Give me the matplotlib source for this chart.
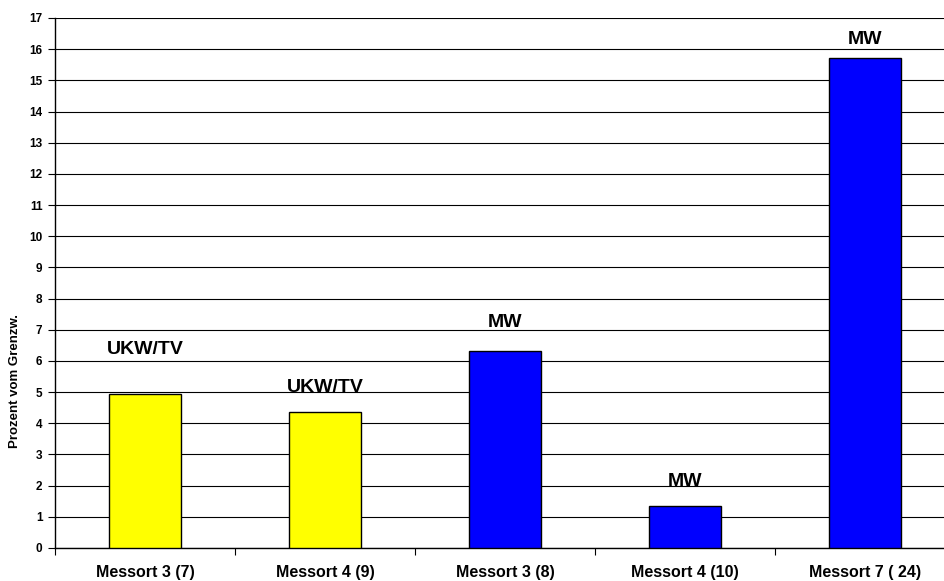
import matplotlib
matplotlib.use("Agg")
import matplotlib.pyplot as plt
import numpy as np

categories = ["Messort 3 (7)", "Messort 4 (9)", "Messort 3 (8)", "Messort 4 (10)", "Messort 7 ( 24)"]
values = [4.93, 4.37, 6.31, 1.35, 15.73]
bar_labels = ["UKW/TV", "UKW/TV", "MW", "MW", "MW"]
label_baseline_y = [6.22, 5.0, 7.09, 2.0, 16.16]
colors = ["#FFFF00", "#FFFF00", "#0000FF", "#0000FF", "#0000FF"]
yticks = list(range(0, 18))

plt.rcParams['font.family'] = ['Liberation Sans', 'DejaVu Sans']

fig = plt.figure(figsize=(9.44, 5.81), dpi=100)
W, H = 944, 581
left, right, top, bottom = 55, 955, 18, 548
ax = fig.add_axes([left / W, 1 - bottom / H, (right - left) / W, (bottom - top) / H])

x = np.arange(len(categories))
ax.bar(x, values, width=0.4, color=colors, edgecolor="black", linewidth=1.0, zorder=3)
for xi, lab, ly in zip(x, bar_labels, label_baseline_y):
    ax.text(xi, ly, lab, ha="center", va="baseline", fontsize=14, fontweight="bold", zorder=4)

ax.set_xlim(-0.5, len(categories) - 0.5)
ax.set_ylim(0, 17)
ax.set_yticks(yticks)
ax.set_yticklabels([str(t) for t in yticks], fontsize=8.5, fontweight="bold")
ax.yaxis.grid(True, color="black", linewidth=0.8, zorder=0)
ax.set_axisbelow(True)

ax.set_xticks(x)
ax.set_xticklabels(categories, fontsize=11.5, fontweight="bold")
ax.tick_params(axis="x", length=0, pad=12)
ax.set_xticks(np.arange(len(categories) + 1) - 0.5, minor=True)
ax.tick_params(axis="x", which="minor", length=5, width=0.8)
ax.tick_params(axis="y", length=5, width=0.8, pad=4)

for s in ["top", "right"]:
    ax.spines[s].set_visible(False)
ax.spines["left"].set_linewidth(1.0)
ax.spines["bottom"].set_linewidth(1.0)

fig.text(15 / W, 1 - 381 / H, "Prozent vom Grenzw.", rotation=90, ha="center", va="center",
         fontsize=9.5, fontweight="bold")

fig.savefig("out.png", dpi=100)
